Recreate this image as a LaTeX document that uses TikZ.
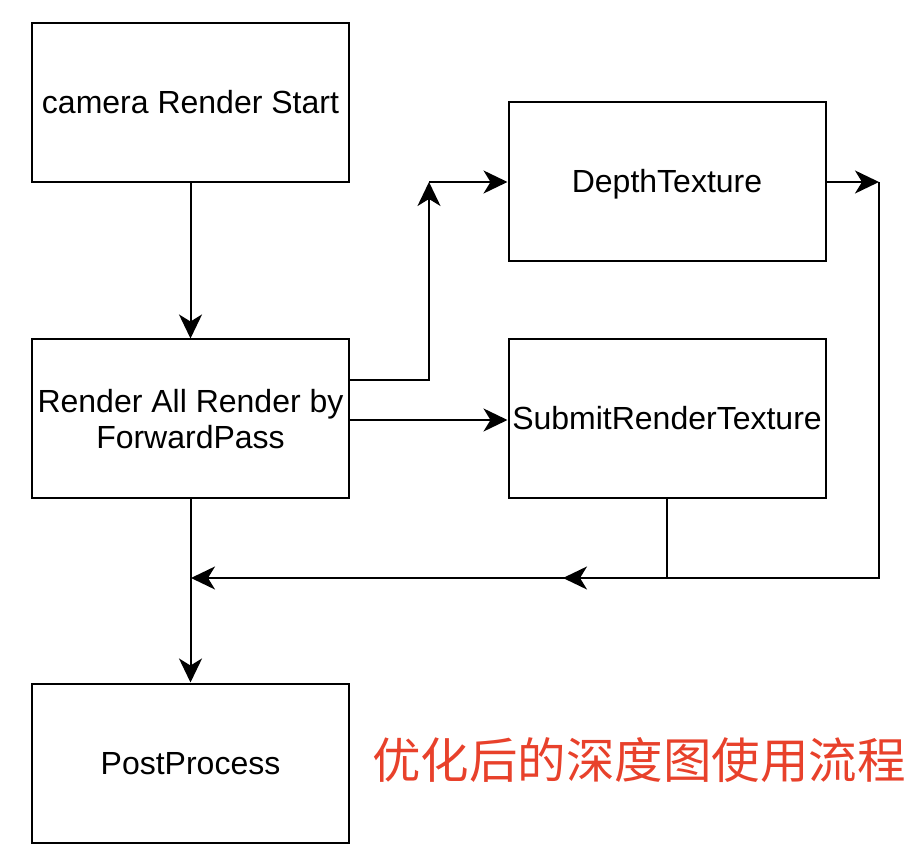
\documentclass[tikz,border=0pt]{standalone}
\usepackage{fontspec}
\setmainfont{Liberation Sans}
\newfontfamily\cjkfont{Noto Sans CJK SC}
\usetikzlibrary{arrows.meta}
\definecolor{titlered}{RGB}{232,65,43}
\begin{document}
\begin{tikzpicture}[x=1pt,y=-1pt,
  box/.style={draw=black,line width=2pt,minimum width=317pt,minimum height=159pt,inner sep=0pt,
    font=\fontsize{32}{36}\selectfont,align=center},
  onel/.style={text height=22pt,text depth=0pt},
  conn/.style={line width=2pt,-{Stealth[length=24pt,width=23pt,inset=7pt]}}]
\useasboundingbox (0,0) rectangle (922,866);
\node[box,onel] (A) at (190.5,102.5) {camera Render Start};
\node[box] (B) at (190.5,419) {\rule{0pt}{22pt}Render All Render by\\ForwardPass\rule[-1pt]{0pt}{1pt}};
\node[box,onel] (C) at (667,181.5) {DepthTexture};
\node[box,onel] (D) at (667,419) {SubmitRenderTexture};
\node[box,onel] (E) at (190.5,763) {PostProcess};
\node[text=titlered,font=\cjkfont\fontsize{48.5}{52}\selectfont] (T) at (639,760) {优化后的深度图使用流程};
\coordinate (p1) at (429,182);
\coordinate (p2) at (879,182);
\coordinate (p3) at (879,578);
\coordinate (p4) at (563,578);
\coordinate (p5) at (667,578);
\coordinate (p6) at (191,578);
\draw[conn] (A) -- (B);
\draw[conn] ([yshift=39pt]B.east) -| (p1);
\draw[conn] (p1) -- (C.west |- p1);
\draw[conn] ([yshift=-1pt]B.east) -- ([yshift=-1pt]D.west);
\draw[conn] (C.east |- p2) -- (p2);
\draw[conn] (p2) -- (p3) -- (p4);
\draw[conn] (D.south) -- (p5) -- (p6);
\draw[conn] (B) -- (E);
\end{tikzpicture}
\end{document}
